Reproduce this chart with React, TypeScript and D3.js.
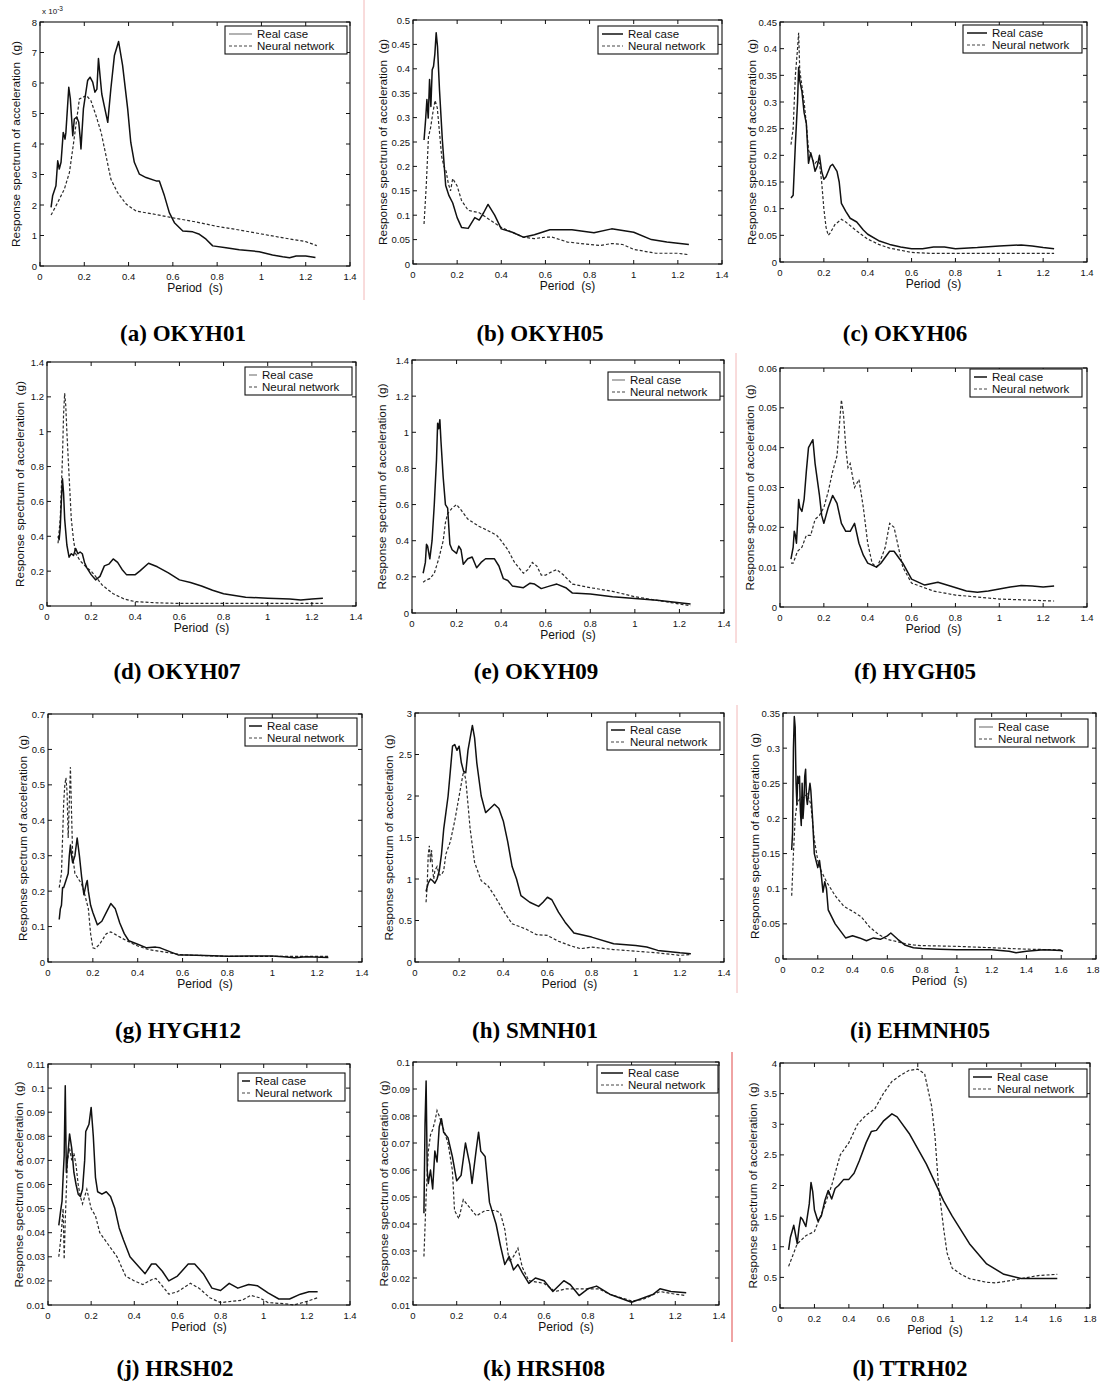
import React from 'react';
import * as d3 from 'd3';

type P = [number, number];

// ---------- DATA (period s, spectral acceleration g) ----------
// (a) OKYH01 values in units of 1e-3 g
const okyh01Real: P[] = [[0.05,1.92],[0.057,2.3],[0.072,2.63],[0.08,3.45],[0.087,3.18],[0.095,3.4],[0.105,4.38],[0.113,4.16],[0.117,4.38],[0.13,5.86],[0.137,5.48],[0.148,4.27],[0.155,4.82],[0.166,4.88],[0.175,4.71],[0.182,4.16],[0.185,3.84],[0.196,5.15],[0.205,5.59],[0.215,6.08],[0.226,6.19],[0.238,6.03],[0.248,5.7],[0.257,5.8],[0.264,6.8],[0.271,6.25],[0.279,5.64],[0.29,5.26],[0.306,4.71],[0.32,5.81],[0.336,6.9],[0.355,7.36],[0.373,6.58],[0.396,5.15],[0.41,4.05],[0.426,3.4],[0.449,3.01],[0.479,2.9],[0.524,2.79],[0.539,2.79],[0.562,2.3],[0.584,1.75],[0.607,1.42],[0.645,1.15],[0.69,1.12],[0.72,1.04],[0.75,0.88],[0.78,0.66],[0.84,0.6],[0.9,0.53],[0.99,0.47],[1.05,0.36],[1.096,0.3],[1.127,0.27],[1.157,0.33],[1.2,0.33],[1.244,0.28]];
const okyh01Nn: P[] = [[0.05,1.67],[0.08,2.08],[0.11,2.52],[0.133,3.07],[0.15,3.95],[0.166,4.82],[0.178,5.48],[0.193,5.53],[0.21,5.59],[0.23,5.42],[0.253,4.93],[0.276,4.38],[0.298,3.62],[0.32,2.85],[0.35,2.41],[0.389,2.03],[0.434,1.8],[0.5,1.72],[0.6,1.58],[0.7,1.45],[0.8,1.3],[0.9,1.18],[1.0,1.05],[1.1,0.92],[1.2,0.8],[1.25,0.67]];

// (b) OKYH05
const okyh05Real: P[] = [[0.05,0.254],[0.057,0.295],[0.063,0.337],[0.069,0.299],[0.075,0.378],[0.081,0.323],[0.087,0.398],[0.093,0.405],[0.099,0.43],[0.105,0.474],[0.111,0.446],[0.12,0.357],[0.133,0.254],[0.148,0.161],[0.163,0.14],[0.18,0.125],[0.2,0.095],[0.22,0.075],[0.25,0.073],[0.28,0.095],[0.3,0.09],[0.32,0.105],[0.34,0.122],[0.37,0.1],[0.4,0.072],[0.45,0.065],[0.5,0.055],[0.55,0.06],[0.62,0.07],[0.72,0.07],[0.82,0.064],[0.9,0.072],[1.0,0.065],[1.08,0.05],[1.15,0.045],[1.25,0.04]];
const okyh05Nn: P[] = [[0.05,0.082],[0.06,0.16],[0.07,0.26],[0.08,0.28],[0.09,0.31],[0.1,0.335],[0.11,0.32],[0.12,0.27],[0.13,0.22],[0.14,0.2],[0.15,0.19],[0.16,0.165],[0.17,0.15],[0.18,0.175],[0.2,0.16],[0.22,0.13],[0.25,0.11],[0.3,0.105],[0.35,0.09],[0.4,0.075],[0.45,0.065],[0.5,0.055],[0.55,0.052],[0.6,0.055],[0.63,0.055],[0.7,0.045],[0.8,0.04],[0.85,0.038],[0.9,0.042],[0.95,0.04],[1.0,0.03],[1.1,0.022],[1.2,0.022],[1.25,0.019]];

// (c) OKYH06
const okyh06Real: P[] = [[0.05,0.12],[0.06,0.125],[0.07,0.22],[0.08,0.3],[0.085,0.365],[0.09,0.34],[0.1,0.32],[0.11,0.28],[0.12,0.26],[0.13,0.185],[0.14,0.205],[0.15,0.19],[0.16,0.17],[0.17,0.18],[0.18,0.2],[0.19,0.17],[0.2,0.155],[0.21,0.16],[0.23,0.18],[0.24,0.183],[0.26,0.17],[0.27,0.15],[0.28,0.11],[0.3,0.095],[0.32,0.082],[0.35,0.075],[0.38,0.06],[0.4,0.052],[0.45,0.04],[0.5,0.033],[0.55,0.028],[0.6,0.025],[0.65,0.025],[0.7,0.028],[0.75,0.028],[0.8,0.025],[0.9,0.027],[1.0,0.03],[1.1,0.032],[1.15,0.03],[1.2,0.027],[1.25,0.025]];
const okyh06Nn: P[] = [[0.05,0.22],[0.06,0.25],[0.07,0.35],[0.08,0.4],[0.085,0.43],[0.09,0.36],[0.1,0.33],[0.11,0.3],[0.12,0.26],[0.13,0.21],[0.14,0.2],[0.15,0.19],[0.16,0.185],[0.17,0.19],[0.18,0.185],[0.19,0.15],[0.2,0.1],[0.21,0.065],[0.22,0.05],[0.23,0.055],[0.25,0.07],[0.28,0.08],[0.3,0.075],[0.35,0.058],[0.4,0.043],[0.45,0.033],[0.5,0.026],[0.55,0.022],[0.6,0.018],[0.7,0.016],[0.8,0.016],[1.0,0.016],[1.25,0.016]];

// (d) OKYH07
const okyh07Real: P[] = [[0.05,0.4],[0.055,0.38],[0.06,0.45],[0.065,0.6],[0.07,0.73],[0.075,0.65],[0.08,0.5],[0.09,0.35],[0.1,0.28],[0.11,0.3],[0.12,0.29],[0.13,0.33],[0.14,0.3],[0.15,0.31],[0.16,0.3],[0.17,0.25],[0.18,0.22],[0.2,0.18],[0.22,0.15],[0.24,0.17],[0.26,0.23],[0.28,0.24],[0.3,0.27],[0.32,0.25],[0.34,0.21],[0.36,0.18],[0.4,0.18],[0.42,0.2],[0.46,0.245],[0.5,0.225],[0.55,0.19],[0.6,0.15],[0.65,0.135],[0.7,0.115],[0.75,0.09],[0.8,0.07],[0.85,0.06],[0.9,0.05],[1.0,0.045],[1.1,0.04],[1.15,0.035],[1.2,0.04],[1.25,0.045]];
const okyh07Nn: P[] = [[0.05,0.36],[0.06,0.5],[0.07,0.85],[0.075,1.1],[0.08,1.22],[0.085,1.15],[0.09,1.0],[0.1,0.75],[0.11,0.5],[0.12,0.38],[0.13,0.3],[0.15,0.26],[0.18,0.22],[0.2,0.2],[0.22,0.17],[0.25,0.12],[0.3,0.07],[0.35,0.04],[0.4,0.025],[0.5,0.018],[0.6,0.015],[0.8,0.015],[1.0,0.015],[1.25,0.015]];

// (e) OKYH09
const okyh09Real: P[] = [[0.05,0.22],[0.06,0.28],[0.065,0.38],[0.07,0.37],[0.08,0.3],[0.09,0.4],[0.1,0.6],[0.11,0.85],[0.115,1.05],[0.12,1.02],[0.125,1.07],[0.13,0.95],[0.14,0.75],[0.15,0.6],[0.16,0.58],[0.17,0.38],[0.18,0.35],[0.2,0.33],[0.21,0.37],[0.22,0.35],[0.23,0.27],[0.25,0.3],[0.27,0.31],[0.29,0.25],[0.31,0.28],[0.33,0.3],[0.37,0.3],[0.39,0.26],[0.41,0.19],[0.43,0.18],[0.45,0.15],[0.5,0.14],[0.53,0.165],[0.55,0.16],[0.58,0.135],[0.62,0.15],[0.65,0.16],[0.69,0.14],[0.72,0.11],[0.8,0.105],[0.9,0.09],[1.0,0.08],[1.1,0.07],[1.25,0.05]];
const okyh09Nn: P[] = [[0.05,0.17],[0.06,0.18],[0.08,0.19],[0.1,0.22],[0.12,0.3],[0.14,0.4],[0.15,0.5],[0.16,0.55],[0.18,0.58],[0.2,0.6],[0.22,0.57],[0.25,0.52],[0.3,0.48],[0.35,0.45],[0.38,0.43],[0.4,0.4],[0.43,0.35],[0.46,0.28],[0.5,0.22],[0.52,0.24],[0.54,0.28],[0.56,0.26],[0.58,0.21],[0.6,0.21],[0.63,0.23],[0.65,0.24],[0.68,0.21],[0.72,0.16],[0.8,0.14],[0.9,0.12],[1.0,0.09],[1.1,0.07],[1.2,0.05],[1.25,0.04]];

// (f) HYGH05
const hygh05Real: P[] = [[0.05,0.012],[0.06,0.015],[0.065,0.019],[0.07,0.018],[0.075,0.016],[0.08,0.021],[0.085,0.027],[0.09,0.025],[0.1,0.024],[0.11,0.027],[0.12,0.034],[0.13,0.04],[0.14,0.041],[0.15,0.042],[0.16,0.036],[0.18,0.028],[0.19,0.023],[0.2,0.021],[0.22,0.025],[0.24,0.028],[0.26,0.026],[0.28,0.021],[0.3,0.019],[0.32,0.019],[0.34,0.021],[0.36,0.016],[0.38,0.013],[0.4,0.011],[0.44,0.01],[0.46,0.011],[0.5,0.014],[0.52,0.014],[0.56,0.011],[0.6,0.007],[0.66,0.0055],[0.72,0.0062],[0.78,0.0052],[0.85,0.004],[0.9,0.0037],[0.95,0.004],[1.0,0.0045],[1.05,0.005],[1.1,0.0054],[1.15,0.0053],[1.2,0.005],[1.25,0.0053]];
const hygh05Nn: P[] = [[0.05,0.011],[0.06,0.011],[0.08,0.014],[0.1,0.015],[0.12,0.018],[0.14,0.018],[0.16,0.022],[0.18,0.023],[0.2,0.025],[0.22,0.029],[0.24,0.034],[0.26,0.038],[0.27,0.045],[0.28,0.052],[0.29,0.048],[0.3,0.04],[0.31,0.035],[0.32,0.036],[0.34,0.03],[0.36,0.032],[0.38,0.025],[0.4,0.016],[0.42,0.011],[0.44,0.01],[0.46,0.012],[0.48,0.015],[0.5,0.021],[0.52,0.02],[0.54,0.015],[0.56,0.01],[0.6,0.006],[0.7,0.004],[0.8,0.003],[0.9,0.0025],[1.0,0.002],[1.1,0.0018],[1.25,0.0015]];

// (g) HYGH12
const hygh12Real: P[] = [[0.05,0.12],[0.055,0.15],[0.06,0.16],[0.065,0.21],[0.07,0.21],[0.08,0.23],[0.09,0.25],[0.095,0.3],[0.1,0.33],[0.105,0.3],[0.11,0.28],[0.12,0.3],[0.13,0.35],[0.14,0.3],[0.15,0.24],[0.16,0.19],[0.17,0.22],[0.175,0.23],[0.18,0.2],[0.19,0.16],[0.2,0.14],[0.22,0.105],[0.24,0.115],[0.26,0.14],[0.28,0.165],[0.3,0.15],[0.32,0.11],[0.34,0.08],[0.36,0.06],[0.4,0.05],[0.44,0.04],[0.48,0.042],[0.5,0.04],[0.54,0.03],[0.58,0.02],[0.62,0.02],[0.7,0.018],[0.8,0.016],[0.9,0.017],[1.0,0.017],[1.05,0.015],[1.1,0.012],[1.15,0.015],[1.25,0.013]];
const hygh12Nn: P[] = [[0.05,0.21],[0.06,0.25],[0.065,0.35],[0.07,0.45],[0.075,0.5],[0.08,0.52],[0.085,0.48],[0.09,0.35],[0.095,0.45],[0.1,0.55],[0.105,0.42],[0.11,0.3],[0.12,0.25],[0.13,0.24],[0.14,0.23],[0.15,0.22],[0.16,0.2],[0.18,0.15],[0.19,0.08],[0.2,0.04],[0.21,0.038],[0.23,0.05],[0.26,0.08],[0.28,0.085],[0.3,0.078],[0.35,0.06],[0.4,0.045],[0.45,0.035],[0.5,0.03],[0.55,0.025],[0.6,0.02],[0.7,0.018],[0.8,0.016],[1.0,0.016],[1.25,0.016]];

// (h) SMNH01
const smnh01Real: P[] = [[0.05,0.85],[0.06,0.95],[0.07,1.0],[0.08,0.98],[0.09,0.95],[0.1,1.0],[0.11,1.1],[0.12,1.3],[0.13,1.6],[0.14,1.8],[0.15,2.0],[0.16,2.3],[0.17,2.6],[0.18,2.62],[0.19,2.55],[0.2,2.6],[0.21,2.4],[0.22,2.3],[0.23,2.28],[0.24,2.55],[0.25,2.7],[0.26,2.85],[0.27,2.7],[0.28,2.4],[0.3,2.0],[0.32,1.8],[0.34,1.85],[0.36,1.9],[0.38,1.85],[0.4,1.7],[0.42,1.45],[0.44,1.15],[0.46,1.0],[0.48,0.8],[0.52,0.72],[0.56,0.67],[0.58,0.72],[0.6,0.78],[0.62,0.75],[0.65,0.6],[0.68,0.48],[0.72,0.35],[0.8,0.3],[0.9,0.22],[1.0,0.2],[1.05,0.18],[1.1,0.14],[1.2,0.11],[1.25,0.1]];
const smnh01Nn: P[] = [[0.05,0.72],[0.055,0.9],[0.06,1.3],[0.065,1.4],[0.07,1.2],[0.075,1.35],[0.08,1.1],[0.085,1.0],[0.09,1.1],[0.1,1.15],[0.11,1.05],[0.12,1.05],[0.13,1.1],[0.14,1.3],[0.16,1.45],[0.18,1.7],[0.2,2.0],[0.22,2.3],[0.23,2.2],[0.24,1.9],[0.25,1.6],[0.27,1.2],[0.3,0.98],[0.33,0.92],[0.36,0.8],[0.4,0.62],[0.44,0.46],[0.5,0.4],[0.55,0.33],[0.6,0.32],[0.65,0.25],[0.7,0.2],[0.75,0.16],[0.8,0.18],[0.9,0.15],[1.0,0.13],[1.1,0.11],[1.2,0.08],[1.25,0.09]];

// (i) EHMNH05
const ehmnh05Real: P[] = [[0.05,0.155],[0.055,0.18],[0.06,0.3],[0.065,0.345],[0.07,0.33],[0.075,0.25],[0.08,0.22],[0.085,0.26],[0.09,0.25],[0.095,0.26],[0.1,0.21],[0.105,0.19],[0.11,0.25],[0.115,0.2],[0.12,0.22],[0.125,0.26],[0.13,0.27],[0.135,0.23],[0.14,0.22],[0.15,0.24],[0.155,0.25],[0.16,0.24],[0.17,0.2],[0.18,0.15],[0.19,0.14],[0.2,0.13],[0.21,0.14],[0.22,0.12],[0.23,0.095],[0.24,0.11],[0.25,0.1],[0.26,0.07],[0.28,0.06],[0.3,0.05],[0.33,0.04],[0.36,0.03],[0.4,0.033],[0.44,0.03],[0.48,0.026],[0.52,0.03],[0.56,0.028],[0.6,0.033],[0.62,0.037],[0.66,0.028],[0.7,0.02],[0.75,0.016],[0.8,0.015],[0.9,0.014],[1.0,0.013],[1.1,0.013],[1.2,0.013],[1.3,0.011],[1.34,0.009],[1.4,0.011],[1.5,0.013],[1.6,0.012],[1.61,0.011]];
const ehmnh05Nn: P[] = [[0.05,0.09],[0.06,0.15],[0.07,0.2],[0.08,0.22],[0.1,0.23],[0.12,0.23],[0.14,0.235],[0.16,0.22],[0.18,0.17],[0.2,0.14],[0.22,0.125],[0.25,0.11],[0.3,0.09],[0.35,0.075],[0.4,0.068],[0.45,0.06],[0.5,0.045],[0.55,0.035],[0.6,0.028],[0.65,0.025],[0.7,0.022],[0.75,0.02],[0.8,0.019],[1.0,0.018],[1.2,0.016],[1.4,0.014],[1.6,0.013]];

// (j) HRSH02
const hrsh02Real: P[] = [[0.05,0.043],[0.06,0.05],[0.065,0.053],[0.07,0.063],[0.075,0.072],[0.08,0.101],[0.085,0.065],[0.09,0.07],[0.1,0.081],[0.11,0.075],[0.12,0.065],[0.13,0.06],[0.14,0.056],[0.15,0.055],[0.16,0.058],[0.17,0.07],[0.175,0.082],[0.18,0.083],[0.19,0.085],[0.2,0.092],[0.21,0.08],[0.22,0.063],[0.23,0.057],[0.25,0.056],[0.27,0.057],[0.29,0.055],[0.31,0.05],[0.33,0.042],[0.35,0.037],[0.38,0.03],[0.42,0.026],[0.45,0.023],[0.48,0.027],[0.5,0.027],[0.53,0.024],[0.56,0.02],[0.6,0.022],[0.65,0.027],[0.68,0.027],[0.72,0.023],[0.76,0.017],[0.8,0.016],[0.84,0.019],[0.88,0.017],[0.93,0.0185],[0.97,0.018],[1.02,0.015],[1.07,0.0125],[1.12,0.0125],[1.17,0.0145],[1.21,0.0155],[1.25,0.0155]];
const hrsh02Nn: P[] = [[0.05,0.03],[0.06,0.038],[0.07,0.05],[0.075,0.029],[0.08,0.045],[0.09,0.07],[0.1,0.075],[0.11,0.07],[0.12,0.073],[0.13,0.068],[0.14,0.06],[0.15,0.055],[0.16,0.052],[0.18,0.058],[0.2,0.05],[0.22,0.047],[0.24,0.04],[0.28,0.035],[0.32,0.03],[0.36,0.022],[0.4,0.02],[0.44,0.0185],[0.48,0.0205],[0.5,0.021],[0.52,0.019],[0.56,0.0145],[0.6,0.0155],[0.66,0.019],[0.7,0.017],[0.75,0.013],[0.8,0.011],[0.85,0.0115],[0.9,0.012],[0.94,0.014],[0.98,0.013],[1.02,0.011],[1.1,0.0105],[1.14,0.01],[1.2,0.0115],[1.25,0.013]];

// (k) HRSH08
const hrsh08Real: P[] = [[0.05,0.044],[0.055,0.077],[0.06,0.093],[0.065,0.06],[0.07,0.055],[0.08,0.06],[0.09,0.053],[0.1,0.067],[0.11,0.063],[0.12,0.076],[0.13,0.079],[0.14,0.074],[0.16,0.072],[0.18,0.065],[0.2,0.056],[0.22,0.058],[0.24,0.07],[0.26,0.062],[0.27,0.055],[0.29,0.068],[0.3,0.074],[0.31,0.067],[0.33,0.065],[0.35,0.048],[0.38,0.04],[0.4,0.032],[0.42,0.025],[0.44,0.028],[0.46,0.023],[0.48,0.025],[0.5,0.022],[0.53,0.018],[0.56,0.02],[0.6,0.019],[0.64,0.015],[0.69,0.019],[0.72,0.0175],[0.76,0.0135],[0.8,0.016],[0.84,0.017],[0.9,0.014],[1.0,0.011],[1.05,0.0125],[1.1,0.014],[1.13,0.016],[1.18,0.015],[1.25,0.0145]];
const hrsh08Nn: P[] = [[0.05,0.028],[0.06,0.05],[0.07,0.067],[0.08,0.073],[0.09,0.075],[0.1,0.078],[0.11,0.082],[0.12,0.08],[0.14,0.075],[0.16,0.07],[0.18,0.06],[0.19,0.045],[0.21,0.042],[0.23,0.049],[0.26,0.046],[0.29,0.043],[0.33,0.045],[0.38,0.045],[0.4,0.044],[0.42,0.038],[0.44,0.026],[0.46,0.028],[0.48,0.031],[0.5,0.024],[0.53,0.019],[0.6,0.018],[0.65,0.015],[0.7,0.016],[0.8,0.016],[0.85,0.016],[0.9,0.014],[1.0,0.0115],[1.05,0.012],[1.13,0.015],[1.2,0.014],[1.25,0.0135]];

// (l) TTRH02
const ttrh02Real: P[] = [[0.05,0.95],[0.06,1.15],[0.07,1.25],[0.08,1.35],[0.09,1.2],[0.1,1.05],[0.11,1.3],[0.12,1.48],[0.13,1.45],[0.15,1.33],[0.17,1.7],[0.18,2.05],[0.19,1.9],[0.2,1.6],[0.22,1.42],[0.24,1.5],[0.26,1.75],[0.28,1.92],[0.3,1.78],[0.32,1.95],[0.34,2.0],[0.37,2.1],[0.4,2.1],[0.43,2.2],[0.46,2.4],[0.5,2.7],[0.53,2.88],[0.56,2.9],[0.6,3.05],[0.65,3.17],[0.68,3.12],[0.75,2.85],[0.85,2.35],[0.95,1.75],[1.0,1.5],[1.1,1.05],[1.2,0.72],[1.3,0.55],[1.4,0.48],[1.5,0.48],[1.61,0.48]];
const ttrh02Nn: P[] = [[0.05,0.68],[0.08,0.9],[0.1,1.05],[0.12,1.1],[0.15,1.18],[0.2,1.25],[0.25,1.6],[0.3,2.0],[0.35,2.5],[0.4,2.7],[0.45,3.0],[0.5,3.15],[0.55,3.25],[0.6,3.5],[0.65,3.7],[0.7,3.8],[0.75,3.88],[0.8,3.9],[0.84,3.82],[0.88,3.3],[0.9,2.8],[0.92,2.0],[0.95,1.3],[0.97,0.9],[1.0,0.65],[1.05,0.55],[1.1,0.48],[1.2,0.42],[1.25,0.41],[1.3,0.43],[1.4,0.48],[1.5,0.53],[1.61,0.55]];

const captions = ['(a) OKYH01','(b) OKYH05','(c) OKYH06','(d) OKYH07','(e) OKYH09','(f) HYGH05','(g) HYGH12','(h) SMNH01','(i) EHMNH05','(j) HRSH02','(k) HRSH08','(l) TTRH02'];
const realSeries = [okyh01Real, okyh05Real, okyh06Real, okyh07Real, okyh09Real, hygh05Real, hygh12Real, smnh01Real, ehmnh05Real, hrsh02Real, hrsh08Real, ttrh02Real];
const nnSeries = [okyh01Nn, okyh05Nn, okyh06Nn, okyh07Nn, okyh09Nn, hygh05Nn, hygh12Nn, smnh01Nn, ehmnh05Nn, hrsh02Nn, hrsh08Nn, ttrh02Nn];
const xMaxes = [1.4,1.4,1.4,1.4,1.4,1.4,1.4,1.4,1.8,1.4,1.4,1.8];
const yMins = [0,0,0,0,0,0,0,0,0,0.01,0.01,0];
const yMaxes = [8,0.5,0.45,1.4,1.4,0.06,0.7,3,0.35,0.11,0.1,4];
const ySteps = [1,0.05,0.05,0.2,0.2,0.01,0.1,0.5,0.05,0.01,0.01,0.5];
const legendLabels = ['Real case','Neural network'];

// ---------- LAYOUT ----------
// [left, top, right, bottom] of each axes box
const boxes: number[][] = [
  [40,22,350,266],[413,20,722,264],[780,22,1087,262],
  [47,362,356,606],[412,360,724,613],[780,368,1087,607],
  [48,714,362,962],[415,713,724,962],[783,713,1096,959],
  [48,1064,350,1305],[413,1062,719,1305],[780,1063,1090,1308],
];
// legend: [width, topOffset, rightOffset]
const legendGeom: number[][] = [
  [122,4,3],[120,6,4],[119,3,5],[107,5,4],[112,12,4],[112,1,5],
  [112,4,5],[113,9,4],[113,6,8],[107,9,5],[121,3,1],[118,6,3],
];
const legendRealGray = [true,false,false,true,true,false,false,false,true,false,false,false];
const captionPos: number[][] = [
  [183,333],[540,333],[905,333],[177,671],[536,671],[915,671],
  [178,1030],[535,1030],[920,1030],[175,1368],[544,1368],[910,1368],
];
const yLabelOffset = [24,30,28,27,30,30,25,26,28,29,29,27];
const sepLines: number[][] = [[364,0,300,0],[736,353,643,0],[737,705,993,0],[732,1052,1342,1]];

const SANS = "'Liberation Sans', Arial, Helvetica, sans-serif";
const SERIF = "'Liberation Serif', 'Times New Roman', serif";
const TICK_FS = 9.5;

const fmt = (v: number) => String(Math.round(v * 1000) / 1000);

function Panel({ i }: { i: number }) {
  const [L, T, R, B] = boxes[i];
  const x = d3.scaleLinear().domain([0, xMaxes[i]]).range([L, R]);
  const y = d3.scaleLinear().domain([yMins[i], yMaxes[i]]).range([B, T]);
  const xt = d3.range(0, Math.round(xMaxes[i] / 0.2) + 1).map(k => k * 0.2);
  const nY = Math.round((yMaxes[i] - yMins[i]) / ySteps[i]);
  const yt = d3.range(0, nY + 1).map(k => yMins[i] + k * ySteps[i]);
  const line = d3.line<P>().x(d => x(d[0])).y(d => y(d[1]));
  const tk = 4;
  const [lw, lto, lro] = legendGeom[i];
  const lx1 = R - lro;
  const lx0 = lx1 - lw;
  const ly0 = T + lto;
  const textX = lx1 - 90;
  const midY = (T + B) / 2;
  return (
    <g>
      {/* curves */}
      <path d={line(nnSeries[i]) || ''} fill="none" stroke="#2a2a2a" strokeWidth={1.2} strokeDasharray="3,2" />
      <path d={line(realSeries[i]) || ''} fill="none" stroke="#111" strokeWidth={1.5} strokeLinejoin="round" />
      {/* axes box */}
      <rect x={L} y={T} width={R - L} height={B - T} fill="none" stroke="#111" strokeWidth={1.1} />
      {xt.map((v, k) => (
        <g key={'x' + k}>
          <line x1={x(v)} x2={x(v)} y1={B} y2={B - tk} stroke="#111" />
          <line x1={x(v)} x2={x(v)} y1={T} y2={T + tk} stroke="#111" />
          <text x={Math.min(x(v), 1093)} y={B + 10} fontSize={TICK_FS} fontFamily={SANS} textAnchor="middle" dominantBaseline="central" fill="#111">{fmt(v)}</text>
        </g>
      ))}
      {yt.map((v, k) => (
        <g key={'y' + k}>
          <line x1={L} x2={L + tk} y1={y(v)} y2={y(v)} stroke="#111" />
          <line x1={R} x2={R - tk} y1={y(v)} y2={y(v)} stroke="#111" />
          <text x={L - 3} y={y(v)} fontSize={TICK_FS} fontFamily={SANS} textAnchor="end" dominantBaseline="central" fill="#111">{fmt(v)}</text>
        </g>
      ))}
      {i === 0 && (
        <text x={L + 2} y={T - 8} fontSize={8} fontFamily={SANS} fill="#111">
          x 10<tspan dy={-3} fontSize={6.5}>-3</tspan>
        </text>
      )}
      <text x={(L + R) / 2} y={B + 22} fontSize={12} fontFamily={SANS} textAnchor="middle" dominantBaseline="central" fill="#111" style={{ whiteSpace: 'pre' }}>{'Period  (s)'}</text>
      <text transform={`translate(${L - yLabelOffset[i]},${midY}) rotate(-90)`} fontSize={11.8} fontFamily={SANS} textAnchor="middle" dominantBaseline="central" fill="#111" style={{ whiteSpace: 'pre' }}>{'Response spectrum of acceleration  (g)'}</text>
      {/* legend */}
      <rect x={lx0} y={ly0} width={lw} height={28} fill="#fff" stroke="#111" strokeWidth={1.1} />
      <line x1={lx0 + 4} x2={textX - 5} y1={ly0 + 8} y2={ly0 + 8} stroke={legendRealGray[i] ? '#999' : '#111'} strokeWidth={1.5} />
      <line x1={lx0 + 4} x2={textX - 5} y1={ly0 + 20} y2={ly0 + 20} stroke="#444" strokeWidth={1.1} strokeDasharray="3,2" />
      <text x={textX} y={ly0 + 8} fontSize={11.5} fontFamily={SANS} dominantBaseline="central" fill="#111">{legendLabels[0]}</text>
      <text x={textX} y={ly0 + 20} fontSize={11.5} fontFamily={SANS} dominantBaseline="central" fill="#111">{legendLabels[1]}</text>
      {/* caption */}
      <text x={captionPos[i][0]} y={captionPos[i][1]} fontSize={23} fontWeight="bold" fontFamily={SERIF} textAnchor="middle" dominantBaseline="central" fill="#000">{captions[i]}</text>
    </g>
  );
}

export default function App() {
  return (
    <svg width={1101} height={1384} style={{ position: 'absolute', left: 0, top: 0, background: '#fff' }}>
      <rect x={0} y={0} width={1101} height={1384} fill="#fff" />
      {sepLines.map((s, k) => (
        <line key={k} x1={s[0]} x2={s[0]} y1={s[1]} y2={s[2]} stroke={s[3] ? '#e04848' : '#f2b8b8'} strokeWidth={1} />
      ))}
      {captions.map((_, i) => <Panel key={i} i={i} />)}
    </svg>
  );
}
